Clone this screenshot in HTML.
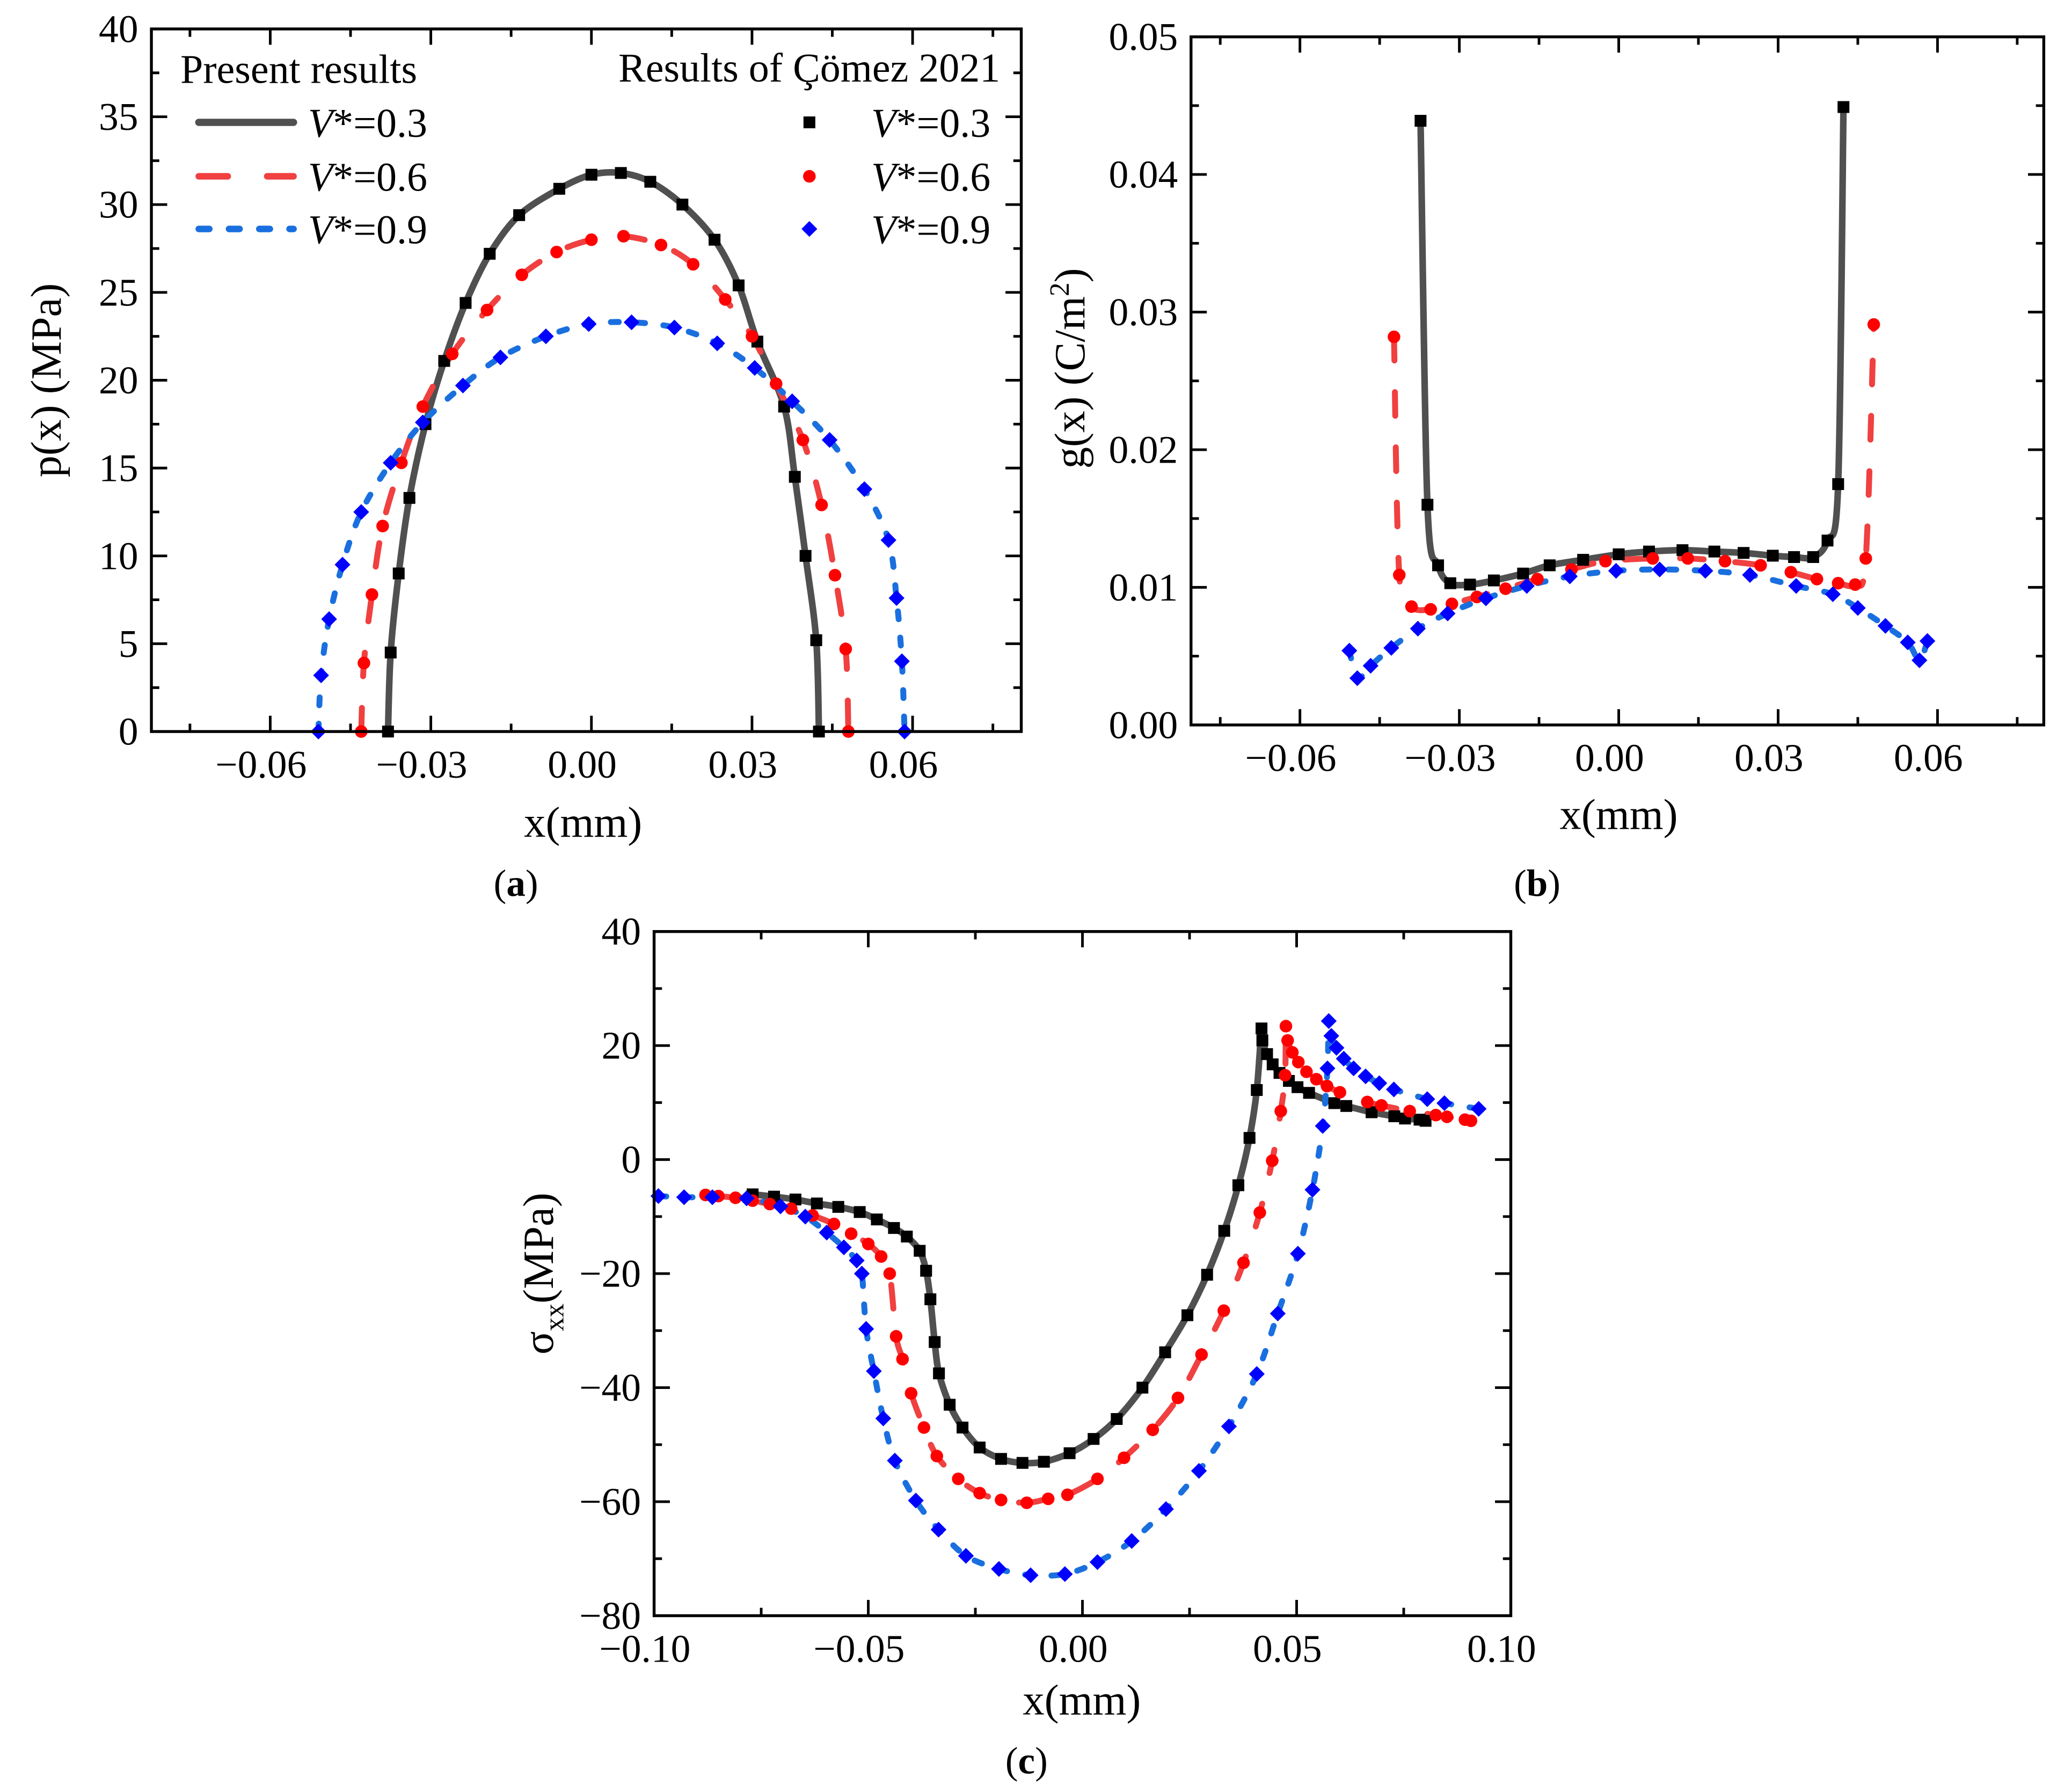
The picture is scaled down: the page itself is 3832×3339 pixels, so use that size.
<!DOCTYPE html>
<html><head><meta charset="utf-8"><style>
html,body{margin:0;padding:0;background:#fff}
svg{display:block}
text{font-family:"Liberation Serif",serif;fill:#000}
</style></head><body>
<svg id="fig" width="3832" height="3339" viewBox="0 0 1563 1362" xmlns="http://www.w3.org/2000/svg">
<rect x="0" y="0" width="1563" height="1362" fill="#fff"/>
<g id="pa"></g>
<g id="pb"></g>
<g id="pc"></g>
<g>
<text x="137" y="63" font-size="31">Present results</text>
<text x="760" y="62" font-size="31" text-anchor="end">Results of Çömez 2021</text>
<line x1="151" y1="93" x2="223" y2="93" stroke="#505050" stroke-width="5.5" stroke-linecap="round"/>
<line x1="151" y1="134" x2="223" y2="134" stroke="#f04040" stroke-width="5" stroke-linecap="round" stroke-dasharray="22 30"/>
<line x1="151" y1="174" x2="223" y2="174" stroke="#1a6fdf" stroke-width="5" stroke-linecap="round" stroke-dasharray="8 15"/>
<text x="234" y="104" font-size="31"><tspan font-style="italic">V</tspan>*=0.3</text>
<text x="234" y="145" font-size="31"><tspan font-style="italic">V</tspan>*=0.6</text>
<text x="234" y="185" font-size="31"><tspan font-style="italic">V</tspan>*=0.9</text>
<rect x="610.5" y="88.5" width="9" height="9" fill="#000"/>
<circle cx="615" cy="134" r="4.8" fill="#f00"/>
<polygon points="615,168 621,174 615,180 609,174" fill="#00f"/>
<text x="662" y="104" font-size="31"><tspan font-style="italic">V</tspan>*=0.3</text>
<text x="662" y="145" font-size="31"><tspan font-style="italic">V</tspan>*=0.6</text>
<text x="662" y="185" font-size="31"><tspan font-style="italic">V</tspan>*=0.9</text>
</g>
</svg>
<script>
// ---------- Panel (a) data ----------
const aX03=[-0.038,-0.0375,-0.036,-0.034,-0.031,-0.0275,-0.0235,-0.019,-0.0135,-0.006,0.0,0.0055,0.011,0.017,0.023,0.0275,0.031,0.036,0.038,0.040,0.042,0.0425];
const aY03=[0,4.5,9,13.3,17.5,21.1,24.4,27.2,29.4,30.9,31.7,31.8,31.3,30.0,28.0,25.4,22.2,18.5,14.5,10,5.2,0];
const aX06=[-0.043,-0.0425,-0.041,-0.039,-0.0355,-0.0315,-0.026,-0.0195,-0.013,-0.0065,0.0,0.006,0.013,0.019,0.025,0.030,0.0345,0.0395,0.043,0.0455,0.0475,0.048];
const aY06=[0,3.9,7.8,11.7,15.3,18.5,21.5,24.0,26.0,27.3,28.0,28.2,27.7,26.6,24.6,22.5,19.8,16.6,12.9,8.9,4.7,0];
const aX09=[-0.051,-0.0505,-0.049,-0.0465,-0.043,-0.0375,-0.0315,-0.024,-0.017,-0.0085,-0.0005,0.0075,0.0155,0.0235,0.0305,0.0375,0.0445,0.051,0.0555,0.057,0.058,0.0585];
const aY09=[0,3.2,6.4,9.5,12.5,15.3,17.6,19.7,21.3,22.5,23.2,23.3,23.0,22.1,20.7,18.8,16.6,13.8,10.9,7.6,4.0,0];
const aXTicks=[-0.06,-0.03,0,0.03,0.06];
const aXTickLabels=["−0.06","−0.03","0.00","0.03","0.06"];
const aYTicks=[0,5,10,15,20,25,30,35,40];
const aYTickLabels=["0","5","10","15","20","25","30","35","40"];
// ---------- Panel (b) data ----------
const bX03=[-0.0373,-0.036,-0.034,-0.0317,-0.028,-0.0235,-0.018,-0.013,-0.0067,0.0,0.0057,0.012,0.018,0.0235,0.029,0.033,0.0366,0.0393,0.0413,0.0423];
const bY03=[0.0439,0.016,0.0116,0.0103,0.0102,0.0105,0.011,0.0116,0.012,0.0124,0.0126,0.0127,0.0126,0.0125,0.0123,0.0122,0.0122,0.0134,0.0175,0.0449];
const bX06=[-0.0423,-0.0413,-0.039,-0.0354,-0.0314,-0.0267,-0.0213,-0.0153,-0.0089,-0.0025,0.0064,0.013,0.020,0.0267,0.0324,0.0373,0.0413,0.0445,0.0465,0.048];
const bY06=[0.0282,0.0109,0.0086,0.0084,0.0088,0.0093,0.0099,0.0106,0.0113,0.0119,0.0121,0.0121,0.0119,0.0116,0.0111,0.0106,0.0103,0.0102,0.0121,0.0291];
const bX09=[-0.0507,-0.0492,-0.0467,-0.0428,-0.0378,-0.0322,-0.025,-0.0173,-0.0092,-0.0005,0.0077,0.0163,0.0247,0.0334,0.0403,0.045,0.0502,0.0544,0.0566,0.0581];
const bY09=[0.0054,0.0034,0.0043,0.0056,0.007,0.0081,0.0092,0.0101,0.0108,0.0112,0.0113,0.0112,0.0109,0.0101,0.0095,0.0085,0.0072,0.006,0.0047,0.0061];
const bXTicks=[-0.06,-0.03,0,0.03,0.06];
const bXTickLabels=["−0.06","−0.03","0.00","0.03","0.06"];
const bYTicks=[0,0.01,0.02,0.03,0.04,0.05];
const bYTickLabels=["0.00","0.01","0.02","0.03","0.04","0.05"];
// ---------- Panel (c) data ----------
const cX03=[-0.077,-0.072,-0.067,-0.062,-0.057,-0.052,-0.048,-0.044,-0.041,-0.038,-0.0365,-0.0355,-0.0345,-0.0335,-0.031,-0.028,-0.024,-0.019,-0.014,-0.009,-0.003,0.0026,0.008,0.014,0.0193,0.0245,0.0291,0.0331,0.0364,0.039,0.0407,0.0418,0.042,0.0431,0.0444,0.046,0.0482,0.0502,0.0529,0.0588,0.0616,0.0675,0.0728,0.0753,0.0787,0.0801];
const cY03=[-6.1,-6.5,-7,-7.7,-8.3,-9.2,-10.5,-12,-13.5,-16,-19.5,-24.5,-32,-37.5,-43,-47,-50.5,-52.5,-53.2,-53,-51.5,-49,-45.5,-40,-33.8,-27.3,-20.2,-12.5,-4.5,3.8,12.2,23,20.9,18.5,16.7,15.2,13.8,12.7,11.7,9.9,9.4,8.3,7.6,7.2,7.0,6.8];
const cX06=[-0.088,-0.085,-0.081,-0.077,-0.073,-0.068,-0.063,-0.058,-0.054,-0.050,-0.047,-0.045,-0.0435,-0.042,-0.040,-0.037,-0.034,-0.029,-0.024,-0.019,-0.013,-0.008,-0.0035,0.0035,0.0097,0.0164,0.0223,0.0278,0.033,0.0376,0.0414,0.0443,0.0463,0.0473,0.0475,0.0479,0.049,0.0504,0.0523,0.0546,0.0571,0.0601,0.0665,0.0698,0.0764,0.0825,0.0851,0.0893,0.0907];
const cY06=[-6.2,-6.4,-6.7,-7.2,-7.8,-8.6,-9.8,-11.3,-13,-14.8,-17,-20,-31,-35,-41,-47,-52,-56,-58.5,-59.7,-60.2,-59.5,-58.8,-56,-52.3,-47.4,-41.8,-34.2,-26.5,-18.1,-9.3,-0.2,8.5,14.8,23.4,20.9,18.8,17.1,15.4,14.1,12.9,11.8,10.1,9.5,8.5,7.8,7.5,7.0,6.8];
const cX09=[-0.099,-0.093,-0.0864,-0.0784,-0.0705,-0.0647,-0.0597,-0.0557,-0.0527,-0.0515,-0.0505,-0.0487,-0.0465,-0.0438,-0.0389,-0.0336,-0.0272,-0.0195,-0.0121,-0.0041,0.0035,0.0115,0.0195,0.0272,0.0342,0.0407,0.0456,0.0503,0.0537,0.0561,0.0572,0.0575,0.0581,0.0593,0.061,0.0633,0.0661,0.0693,0.0727,0.0805,0.0845,0.0925];
const cY09=[-6.4,-6.6,-6.6,-6.8,-8.2,-10,-12.8,-15.4,-17.7,-20,-29.7,-37.1,-45.4,-52.8,-59.8,-64.9,-69.5,-71.8,-72.9,-72.7,-70.6,-66.9,-61.3,-54.6,-46.8,-37.6,-27.0,-16.5,-5.3,5.9,16.0,24.3,21.7,19.6,17.7,16.0,14.6,13.4,12.3,10.6,9.9,8.9];
const cXTicks=[-0.1,-0.05,0,0.05,0.1];
const cXTickLabels=["−0.10","−0.05","0.00","0.05","0.10"];
const cYTicks=[-80,-60,-40,-20,0,20,40];
const cYTickLabels=["−80","−60","−40","−20","0","20","40"];

const NS="http://www.w3.org/2000/svg";
function mk(tag,attrs,parent){const e=document.createElementNS(NS,tag);for(const k in attrs)e.setAttribute(k,attrs[k]);parent.appendChild(e);return e;}
function smoothPath(pts){
  let d="M"+pts[0][0].toFixed(2)+","+pts[0][1].toFixed(2);
  for(let i=0;i<pts.length-1;i++){
    const p0=pts[i-1]||pts[i],p1=pts[i],p2=pts[i+1],p3=pts[i+2]||p2;
    const t=0.16;
    const c1=[p1[0]+(p2[0]-p0[0])*t,p1[1]+(p2[1]-p0[1])*t];
    const c2=[p2[0]-(p3[0]-p1[0])*t,p2[1]-(p3[1]-p1[1])*t];
    d+=" C"+c1[0].toFixed(2)+","+c1[1].toFixed(2)+" "+c2[0].toFixed(2)+","+c2[1].toFixed(2)+" "+p2[0].toFixed(2)+","+p2[1].toFixed(2);
  }
  return d;
}
function panel(g,cfg){
  const sx=v=>cfg.x0+(v-cfg.xmin)/(cfg.xmax-cfg.xmin)*(cfg.x1-cfg.x0);
  const sy=v=>cfg.y1-(v-cfg.ymin)/(cfg.ymax-cfg.ymin)*(cfg.y1-cfg.y0);
  cfg.series.forEach(s=>{
    const pts=s.x.map((v,i)=>[sx(v),sy(s.y[i])]);
    const p=mk("path",{d:smoothPath(pts),fill:"none",stroke:s.color,"stroke-width":s.w,"stroke-linecap":"round","stroke-linejoin":"round"},g);
    if(s.dash)p.setAttribute("stroke-dasharray",s.dash);
    
    
  });
  cfg.series.forEach(s=>{
    s.x.forEach((v,i)=>{
      const X=sx(v),Y=sy(s.y[i]);let m;
      if(s.marker==="sq")m=mk("rect",{x:X-4.5,y:Y-4.5,width:9,height:9,fill:"#000"},g);
      else if(s.marker==="ci")m=mk("circle",{cx:X,cy:Y,r:4.8,fill:"#f00"},g);
      else m=mk("polygon",{points:`${X},${Y-6} ${X+6},${Y} ${X},${Y+6} ${X-6},${Y}`,fill:"#00f"},g);
      
      
    });
  });
  const fr=mk("rect",{x:cfg.x0,y:cfg.y0,width:cfg.x1-cfg.x0,height:cfg.y1-cfg.y0,fill:"none",stroke:"#000","stroke-width":2.2},g);
  
  
  let tp="";
  for(let k=Math.ceil(cfg.xmin/cfg.xminor-1e-9);k*cfg.xminor<=cfg.xmax+1e-9;k++){
    const v=k*cfg.xminor,X=sx(v);
    const major=Math.abs(Math.round(v/cfg.xmajor)*cfg.xmajor-v)<1e-9;
    const L=major?12:6;
    tp+=`M${X},${cfg.y1}v${-L}M${X},${cfg.y0}v${L}`;
  }
  for(let k=Math.ceil(cfg.ymin/cfg.yminor-1e-9);k*cfg.yminor<=cfg.ymax+1e-9;k++){
    const v=k*cfg.yminor,Y=sy(v);
    const major=Math.abs(Math.round(v/cfg.ymajor)*cfg.ymajor-v)<1e-9;
    const L=major?12:6;
    tp+=`M${cfg.x0},${Y}h${L}M${cfg.x1},${Y}h${-L}`;
  }
  const tk=mk("path",{d:tp,stroke:"#000","stroke-width":2,fill:"none"},g);
  
  
  cfg.xt.forEach((v,i)=>{
    const t=mk("text",{x:sx(v)-7,y:cfg.y1+35,"font-size":30,"text-anchor":"middle"},g);
    t.textContent=cfg.xl[i];
    
    
  });
  cfg.yt.forEach((v,i)=>{
    const t=mk("text",{x:cfg.x0-10,y:sy(v)+10,"font-size":30,"text-anchor":"end"},g);
    t.textContent=cfg.yl[i];
    
    
  });
}
panel(document.getElementById("pa"),{x0:115,x1:776,y0:22,y1:556,xmin:-0.0822,xmax:0.0803,ymin:0,ymax:40,
  xminor:0.015,xmajor:0.03,yminor:2.5,ymajor:5,xt:aXTicks,xl:aXTickLabels,yt:aYTicks,yl:aYTickLabels,
  series:[{name:"a-v03",x:aX03,y:aY03,color:"#505050",w:5,marker:"sq"},
          {name:"a-v06",x:aX06,y:aY06,color:"#f04040",w:4.5,dash:"18 24",marker:"ci"},
          {name:"a-v09",x:aX09,y:aY09,color:"#1a6fdf",w:4.5,dash:"6 14",marker:"di"}]});
panel(document.getElementById("pb"),{x0:905,x1:1553,y0:28,y1:551,xmin:-0.0805,xmax:0.08,ymin:0,ymax:0.05,
  xminor:0.015,xmajor:0.03,yminor:0.005,ymajor:0.01,xt:bXTicks,xl:bXTickLabels,yt:bYTicks,yl:bYTickLabels,
  series:[{name:"b-v03",x:bX03,y:bY03,color:"#505050",w:5,marker:"sq"},
          {name:"b-v06",x:bX06,y:bY06,color:"#f04040",w:4.5,dash:"18 24",marker:"ci"},
          {name:"b-v09",x:bX09,y:bY09,color:"#1a6fdf",w:4.5,dash:"6 14",marker:"di"}]});
panel(document.getElementById("pc"),{x0:497,x1:1148,y0:708,y1:1228,xmin:-0.1,xmax:0.1,ymin:-80,ymax:40,
  xminor:0.025,xmajor:0.05,yminor:10,ymajor:20,xt:cXTicks,xl:cXTickLabels,yt:cYTicks,yl:cYTickLabels,
  series:[{name:"c-v03",x:cX03,y:cY03,color:"#505050",w:5,marker:"sq"},
          {name:"c-v06",x:cX06,y:cY06,color:"#f04040",w:4.5,dash:"18 24",marker:"ci"},
          {name:"c-v09",x:cX09,y:cY09,color:"#1a6fdf",w:4.5,dash:"6 14",marker:"di"}]});
</script>
<svg style="position:absolute;left:0;top:0" width="3832" height="3339" viewBox="0 0 1563 1362" xmlns="http://www.w3.org/2000/svg">
<g font-family="Liberation Serif, serif">
<text x="443" y="636" font-size="33" text-anchor="middle">x(mm)</text>
<text transform="translate(46,289) rotate(-90)" font-size="33" text-anchor="middle">p(x) (MPa)</text>
<text x="392" y="681" font-size="29" text-anchor="middle">(<tspan font-weight="bold">a</tspan>)</text>
<text x="1230" y="630" font-size="33" text-anchor="middle">x(mm)</text>
<text transform="translate(824,280) rotate(-90)" font-size="33" text-anchor="middle">g(x) (C/m<tspan font-size="21" dy="-12">2</tspan><tspan dy="12">)</tspan></text>
<text x="1168" y="681" font-size="29" text-anchor="middle">(<tspan font-weight="bold">b</tspan>)</text>
<text x="822" y="1303" font-size="33" text-anchor="middle">x(mm)</text>
<text transform="translate(420,968) rotate(-90)" font-size="33" text-anchor="middle">σ<tspan font-size="21" dy="8">xx</tspan><tspan dy="-8">(MPa)</tspan></text>
<text x="780" y="1348" font-size="29" text-anchor="middle">(<tspan font-weight="bold">c</tspan>)</text>
</g>
</svg>
</body></html>
